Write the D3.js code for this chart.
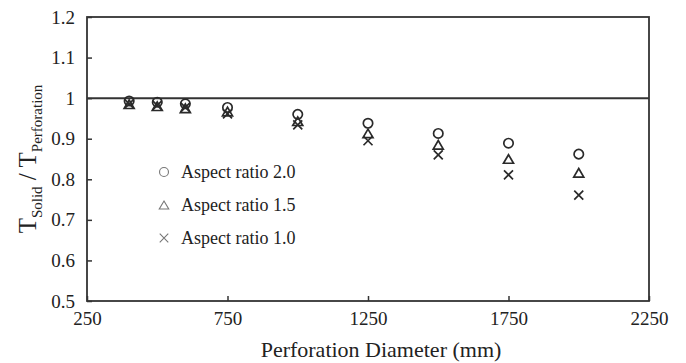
<!DOCTYPE html>
<html>
<head>
<meta charset="utf-8">
<script src="https://cdn.jsdelivr.net/npm/d3@7"></script>
<style>
  html, body { margin: 0; padding: 0; background: #fff; }
  svg { display: block; }
  text { font-family: "Liberation Serif", "Times New Roman", serif; fill: #222; }
</style>
</head>
<body>
<svg id="chart" width="686" height="363"></svg>
<script>
// ---- data ----
const diameters = [400, 500, 600, 750, 1000, 1250, 1500, 1750, 2000];
const ratio20 = [0.993, 0.990, 0.986, 0.977, 0.960, 0.938, 0.913, 0.889, 0.862];
const ratio15 = [0.985, 0.980, 0.975, 0.967, 0.943, 0.913, 0.885, 0.850, 0.816];
const ratio10 = [0.986, 0.982, 0.977, 0.961, 0.934, 0.895, 0.860, 0.811, 0.761];
const seriesNames = ["Aspect ratio 2.0", "Aspect ratio 1.5", "Aspect ratio 1.0"];
const xTicks = [250, 750, 1250, 1750, 2250];
const yTicks = [0.5, 0.6, 0.7, 0.8, 0.9, 1.0, 1.1, 1.2];
const yTickLabels = ["0.5", "0.6", "0.7", "0.8", "0.9", "1", "1.1", "1.2"];
const referenceLine = 1.0;

// ---- layout ----
const svg = d3.select("#chart");
const m = { left: 87, right: 649, top: 17, bottom: 301 };
const x = d3.scaleLinear().domain([250, 2250]).range([m.left, m.right]);
const y = d3.scaleLinear().domain([0.5, 1.2]).range([m.bottom, m.top]);
const axisColor = "#333";

// custom marker shapes (size = half width in px)
const shapeCircle = { draw(ctx, s) { ctx.moveTo(s, 0); ctx.arc(0, 0, s, 0, 2 * Math.PI); } };
const shapeTriangle = { draw(ctx, s) { const h = s * 0.85; ctx.moveTo(0, -h); ctx.lineTo(s, h); ctx.lineTo(-s, h); ctx.closePath(); } };
const shapeTimes = { draw(ctx, s) { ctx.moveTo(-s, -s); ctx.lineTo(s, s); ctx.moveTo(s, -s); ctx.lineTo(-s, s); } };
const shapes = [shapeCircle, shapeTriangle, shapeTimes];
const shapeSizes = [4.7, 5, 4.5];
const seriesVals = [ratio20, ratio15, ratio10];

// frame
svg.append("rect")
  .attr("x", m.left).attr("y", m.top)
  .attr("width", m.right - m.left).attr("height", m.bottom - m.top)
  .attr("fill", "none").attr("stroke", axisColor).attr("stroke-width", 1.8);

// y axis (ticks inward)
const yAxis = d3.axisLeft(y).tickValues(yTicks).tickSize(-5).tickPadding(12)
  .tickFormat((d, i) => yTickLabels[i]);
const gy = svg.append("g").attr("transform", `translate(${m.left},0)`).call(yAxis);
gy.select(".domain").remove();
gy.selectAll(".tick line").attr("stroke", axisColor).attr("stroke-width", 1.5);
gy.selectAll(".tick text").attr("font-size", 19).attr("fill", "#222")
  .attr("font-family", "Liberation Serif, serif");

// x axis (ticks inward)
const xAxis = d3.axisBottom(x).tickValues(xTicks).tickSize(-5).tickPadding(11)
  .tickFormat(d3.format("d"));
const gx = svg.append("g").attr("transform", `translate(0,${m.bottom})`).call(xAxis);
gx.select(".domain").remove();
gx.selectAll(".tick line").attr("stroke", axisColor).attr("stroke-width", 1.5);
gx.selectAll(".tick text").attr("font-size", 19).attr("fill", "#222")
  .attr("font-family", "Liberation Serif, serif");

// reference line at 1
svg.append("line")
  .attr("x1", x(250)).attr("x2", x(2250))
  .attr("y1", y(referenceLine)).attr("y2", y(referenceLine))
  .attr("stroke", axisColor).attr("stroke-width", 2);

// data markers
seriesVals.forEach((vals, si) => {
  svg.append("g").selectAll("path")
    .data(diameters.map((d, i) => ({ d, v: vals[i] })))
    .join("path")
    .attr("transform", p => `translate(${x(p.d)},${y(p.v)})`)
    .attr("d", d3.symbol().type(shapes[si]).size(shapeSizes[si]))
    .attr("fill", "none").attr("stroke", "#2a2a2a").attr("stroke-width", 1.7);
});

// legend
const legendX = 164, legendY0 = 172, legendStep = 33;
seriesNames.forEach((name, si) => {
  const ly = legendY0 + si * legendStep;
  svg.append("path")
    .attr("transform", `translate(${legendX},${ly})`)
    .attr("d", d3.symbol().type(shapes[si]).size(shapeSizes[si] * 0.95))
    .attr("fill", "none").attr("stroke", "#777").attr("stroke-width", 1.1);
  svg.append("text")
    .attr("x", legendX + 17).attr("y", ly + 6)
    .attr("font-size", 18).text(name);
});

// axis titles
svg.append("text")
  .attr("x", 381).attr("y", 357)
  .attr("text-anchor", "middle").attr("font-size", 22)
  .text("Perforation Diameter (mm)");

const yt = svg.append("text")
  .attr("transform", "translate(36,159) rotate(-90)")
  .attr("text-anchor", "middle");
yt.append("tspan").attr("font-size", 25).text("T");
yt.append("tspan").attr("font-size", 15).attr("dy", 6).text("Solid");
yt.append("tspan").attr("font-size", 25).attr("dy", -6).text(" / T");
yt.append("tspan").attr("font-size", 15).attr("dy", 6).text("Perforation");
</script>
</body>
</html>
